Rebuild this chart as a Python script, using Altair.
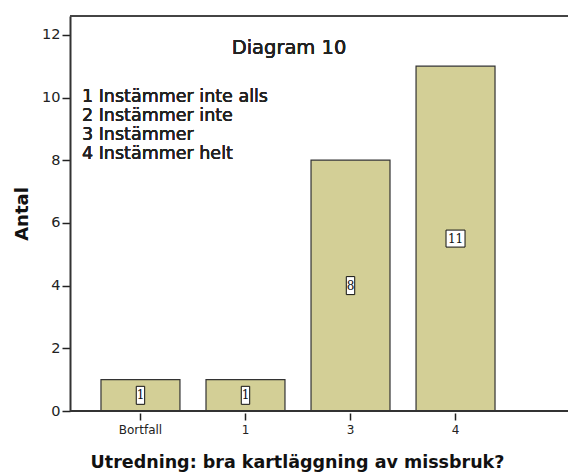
import altair as alt
import pandas as pd

categories = ["Bortfall", "1", "3", "4"]
counts = [1, 1, 8, 11]
legend_lines = ["1 Instämmer inte alls", "2 Instämmer inte", "3 Instämmer", "4 Instämmer helt"]
y_ticks = [0, 2, 4, 6, 8, 10, 12]
chart_title = "Diagram 10"
x_title = "Utredning: bra kartläggning av missbruk?"
y_title = "Antal"

df = pd.DataFrame({"cat": categories, "count": counts})

W, H = 498, 395
FONT = "DejaVu Sans"

x_enc = alt.X(
    "cat:N", sort=categories,
    scale=alt.Scale(range=[0, 456], paddingInner=0.248, paddingOuter=0.295),
    axis=alt.Axis(
        title=x_title, domain=False, offset=2, tickSize=7, tickColor="#222", tickWidth=1.5,
        labelAngle=0, labelFont=FONT, labelFontSize=12, labelColor="#222", labelPadding=4,
        titleFont=FONT, titleFontSize=17.5, titleFontWeight="bold", titleColor="#111",
        titleX=227, titleY=54, titleBaseline="alphabetic", titleAnchor="middle",
    ),
)
y_scale = alt.Scale(domain=[0, 12.6], nice=False)
y_enc = alt.Y(
    "count:Q", scale=y_scale,
    axis=alt.Axis(
        title=y_title, values=y_ticks, grid=False, domainColor="#333", domainWidth=2,
        tickSize=8, tickColor="#222", tickWidth=1.5,
        labelFont=FONT, labelFontSize=14.5, labelColor="#222", labelPadding=2,
        titleFont=FONT, titleFontSize=18, titleFontWeight="bold", titleColor="#111",
        titleX=-48, titleY=H / 2, titleAngle=-90, titleBaseline="middle", titleAnchor="middle",
    ),
)

bars = alt.Chart(df).mark_bar(fill="#d3cf96", stroke="#333", strokeWidth=1.2).encode(
    x=x_enc, y=y_enc
)

mid = alt.Chart(df).transform_calculate(half="datum.count / 2")
narrow = "M-0.42,-0.9L0.42,-0.9L0.42,0.9L-0.42,0.9Z"
wide = "M-0.95,-0.85L0.95,-0.85L0.95,0.85L-0.95,0.85Z"
boxes = mid.mark_point(filled=True, fill="white", stroke="#111", strokeWidth=1, opacity=1, size=400).encode(
    x=alt.X("cat:N", sort=categories),
    y=alt.Y("half:Q", scale=y_scale),
    shape=alt.condition("datum.count >= 10", alt.value(wide), alt.value(narrow)),
)
labels = mid.mark_text(font="DejaVu Serif", fontSize=12, color="#111", baseline="middle").encode(
    x=alt.X("cat:N", sort=categories),
    y=alt.Y("half:Q", scale=y_scale),
    text=alt.Text("count:Q"),
)

title_txt = alt.Chart(df).mark_text(font=FONT, fontSize=19.5, color="#222", align="center", baseline="middle").encode(
    x=alt.value(219), y=alt.value(32), text=alt.value(chart_title)
)
legend_txt = alt.Chart(df).mark_text(font=FONT, fontSize=17.5, color="#222", align="left", baseline="top",
                                     lineHeight=19).encode(
    x=alt.value(12), y=alt.value(72), text=alt.value(legend_lines)
)
top_line = alt.Chart(df).mark_rule(color="#444", strokeWidth=1.5).encode(
    x=alt.value(0), x2=alt.value(W), y=alt.value(0)
)
bottom_line = alt.Chart(df).mark_rule(color="#333", strokeWidth=2).encode(
    x=alt.value(0), x2=alt.value(W), y=alt.value(H)
)

chart = alt.layer(bars, bottom_line, top_line, boxes, labels, title_txt, legend_txt).properties(
    width=W, height=H, autosize=alt.AutoSizeParams(type="none"),
    padding={"left": 62, "top": 8, "right": 0, "bottom": 64},
).configure_view(fill="#f0f0f0", stroke=None).configure(background="white")

chart.save("out.html", embed_options={"renderer": "svg", "actions": False})
